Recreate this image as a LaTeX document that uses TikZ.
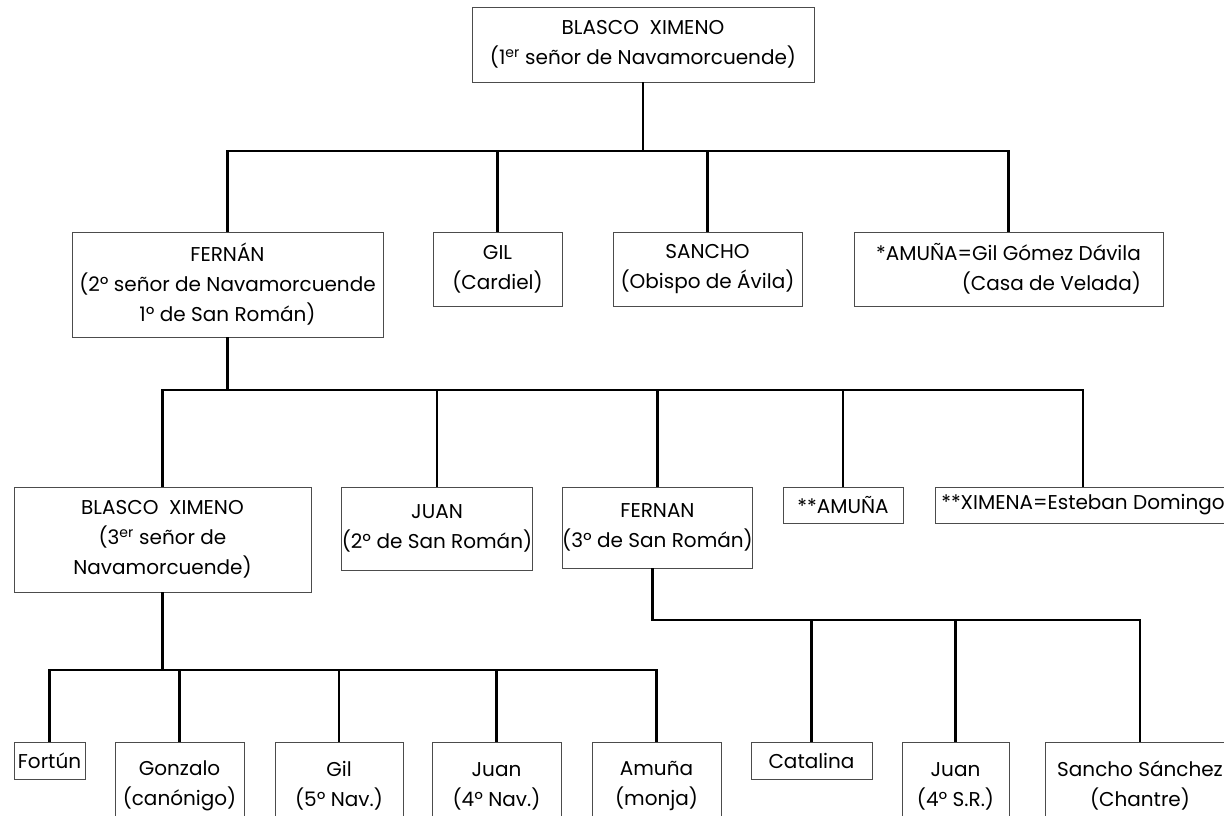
\documentclass[tikz,border=0pt]{standalone}
\usepackage{fontspec}
\setmainfont{Poppins}
\usetikzlibrary{positioning, calc}

\begin{document}
\begin{tikzpicture}[
    x=1pt, y=-1pt,
    person/.style={draw=black!70, line width=0.9pt, rectangle, inner sep=0pt, align=center, font=\fontsize{20}{30}\selectfont},
    link/.style={draw, line width=2.4pt}
]
    \clip (0,0) rectangle (1224,815);

    % --- Generation 1 ---
    \node[person, minimum width=342, minimum height=75] (blasco) at (643,44.5) {BLASCO~~XIMENO\\(1\textsuperscript{er} señor de Navamorcuende)};

    % --- Generation 2 ---
    \node[person, minimum width=311, minimum height=105] (fernan) at (227.5,284.5) {FERNÁN\\(2º señor de Navamorcuende\\1º de San Román)};
    \node[person, minimum width=129, minimum height=74] (gil) at (497.5,269) {GIL\\(Cardiel)};
    \node[person, minimum width=189, minimum height=74] (sancho) at (707.5,269) {SANCHO\\(Obispo de Ávila)};
    \node[person, minimum width=309, minimum height=74, align=right, inner xsep=4pt] (amunaA) at (1008.5,269) {*AMUÑA=Gil Gómez Dávila\\(Casa de Velada)};

    % --- Generation 3 ---
    \node[person, minimum width=297, minimum height=105] (blascoB) at (162.5,539.5) {BLASCO~~XIMENO\\(3\textsuperscript{er} señor de\\Navamorcuende)};
    \node[person, minimum width=190, minimum height=83] (juan) at (437,528.5) {JUAN\\(2º de San Román)};
    \node[person, minimum width=189, minimum height=81] (fernanB) at (657.5,527.5) {FERNAN\\(3º de San Román)};
    \node[person, minimum width=120, minimum height=36] (amunaB) at (843,505) {**AMUÑA};
    \node[person, minimum width=296, minimum height=36] (ximena) at (1083,505) {**XIMENA=Esteban Domingo};

    % --- Generation 4 (Navamorcuende) ---
    \node[person, minimum width=71, minimum height=37] (fortun) at (49.5,760.5) {Fortún};
    \node[person, minimum width=129, minimum height=88] (gonzalo) at (179.5,786) {Gonzalo\\(canónigo)};
    \node[person, minimum width=128, minimum height=88] (gilC) at (339,786) {Gil\\(5º Nav.)};
    \node[person, minimum width=129, minimum height=88] (juanC) at (496.5,786) {Juan\\(4º Nav.)};
    \node[person, minimum width=129, minimum height=88] (amunaC) at (656.5,786) {Amuña\\(monja)};

    % --- Generation 4 (San Román) ---
    \node[person, minimum width=121, minimum height=37] (catalina) at (811.5,760.5) {Catalina};
    \node[person, minimum width=107, minimum height=88] (juanD) at (955.5,786) {Juan\\(4º S.R.)};
    \node[person, minimum width=190, minimum height=88] (sanchoC) at (1140,786) {Sancho Sánchez\\(Chantre)};

    % --- Lines of descent ---
    \coordinate (bar1) at (0,151);
    \coordinate (bar2) at (0,390);
    \coordinate (bar3) at (0,670);
    \coordinate (bar4) at (0,620);

    \draw[link] (blasco.south) -- (blasco.south |- bar1);
    \draw[link] (fernan.north) |- (amunaA.north |- bar1) -- (amunaA.north);
    \foreach \k in {gil, sancho}
        \draw[link] (\k.north) -- (\k.north |- bar1);

    \draw[link] (fernan.south) -- (fernan.south |- bar2);
    \draw[link] (blascoB.north) |- (ximena.north |- bar2) -- (ximena.north);
    \foreach \k in {juan, fernanB, amunaB}
        \draw[link] (\k.north) -- (\k.north |- bar2);

    \draw[link] (blascoB.south) -- (blascoB.south |- bar3);
    \draw[link] (fortun.north) |- (amunaC.north |- bar3) -- (amunaC.north);
    \foreach \k in {gonzalo, gilC, juanC}
        \draw[link] (\k.north) -- (\k.north |- bar3);

    \draw[link] ([xshift=-5pt]fernanB.south) |- (sanchoC.north |- bar4) -- (sanchoC.north);
    \foreach \k in {catalina, juanD}
        \draw[link] (\k.north) -- (\k.north |- bar4);
\end{tikzpicture}
\end{document}
